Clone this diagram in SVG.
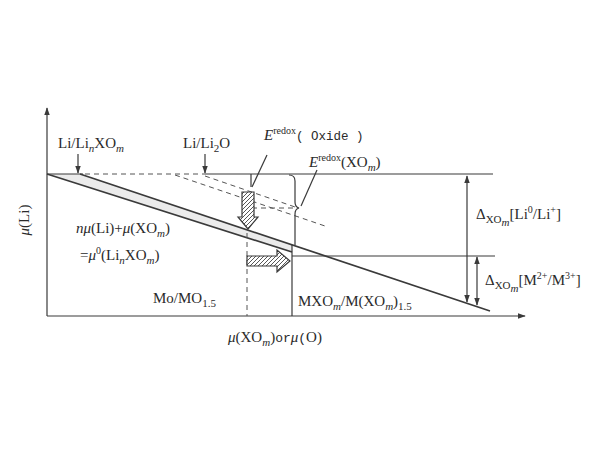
<svg xmlns="http://www.w3.org/2000/svg" width="600" height="450" viewBox="0 0 600 450">
<style>
.ln{stroke:#3a3a3a;stroke-width:1.2;fill:none}
.th{stroke:#3a3a3a;stroke-width:1.7;fill:none}
.ds{stroke:#555;stroke-width:1;fill:none;stroke-dasharray:5,4}
.t{font-family:"Liberation Serif","Times New Roman",serif;font-size:15px;fill:#2a2a2a}
.m{font-family:"Liberation Mono","Courier New",monospace;fill:#2a2a2a}
.hat{fill:url(#hatch);stroke:#3a3a3a;stroke-width:1.2}
</style>
<defs>
<pattern id="hatch" patternUnits="userSpaceOnUse" width="4" height="4">
<rect width="4" height="4" fill="#fff"/>
<path d="M-1,1 L1,-1 M0,4 L4,0 M3,5 L5,3" stroke="#444" stroke-width="0.9"/>
</pattern>
<marker id="ah" viewBox="0 0 10 10" refX="9" refY="5" markerWidth="8" markerHeight="8" orient="auto-start-reverse" markerUnits="userSpaceOnUse">
<path d="M0,1.5 L10,5 L0,8.5 Z" fill="#3a3a3a"/>
</marker>
</defs>
<rect width="600" height="450" fill="#fff"/>

<g id="axes">
<line class="ln" x1="47" y1="316" x2="47" y2="108" marker-end="url(#ah)"/>
<line class="ln" x1="47" y1="316" x2="525" y2="316" marker-end="url(#ah)"/>
</g>

<g id="connectors">
<polygon points="47,174 80,174 292,244.4 292,252" fill="#ebebeb" stroke="none"/>
<line class="th" x1="47" y1="174" x2="292" y2="252"/>
<line class="th" x1="80" y1="174" x2="490" y2="311"/>
<line class="ln" x1="47" y1="174" x2="83" y2="174"/>
<line class="ds" x1="85" y1="174" x2="205" y2="174"/>
<line class="ln" x1="205" y1="174" x2="493" y2="174"/>
<line class="ln" x1="292" y1="256" x2="495" y2="256"/>
<line class="ds" x1="175" y1="175" x2="325" y2="226"/>
<line class="ds" x1="205" y1="176" x2="298" y2="208"/>
<line class="ds" x1="252" y1="208" x2="298" y2="208"/>
<line class="ds" x1="247" y1="233" x2="247" y2="316"/>
<line class="ln" x1="292" y1="245" x2="292" y2="316"/>
<line class="ln" x1="251" y1="174" x2="251" y2="187"/>
<path class="ln" d="M289,175 Q295,175 295,181 L295,202 Q295,207 299,208 Q295,209 295,214 L295,245"/>
<line class="ln" x1="267" y1="155" x2="252" y2="187"/>
<line class="ln" x1="317" y1="170" x2="301" y2="206"/>
<line class="ln" x1="78" y1="154" x2="78" y2="173" marker-end="url(#ah)"/>
<line class="ln" x1="205" y1="154" x2="205" y2="173" marker-end="url(#ah)"/>
<line class="ln" x1="467" y1="176" x2="467" y2="302" marker-start="url(#ah)" marker-end="url(#ah)"/>
<line class="ln" x1="477" y1="257" x2="477" y2="305" marker-start="url(#ah)" marker-end="url(#ah)"/>
<polygon class="hat" points="242,192 254,192 254,217 258,217 248,229 238,217 242,217"/>
<polygon class="hat" points="247,256 277,256 277,250 290,261 277,272 277,266 247,266"/>
</g>

<g id="labels">
<text class="t" x="58" y="148">Li/Li<tspan dy="4" font-size="11" font-style="italic">n</tspan><tspan dy="-4">XO</tspan><tspan dy="4" font-size="11" font-style="italic">m</tspan></text>
<text class="t" x="183" y="148">Li/Li<tspan dy="4" font-size="11">2</tspan><tspan dy="-4">O</tspan></text>
<text class="t" x="264" y="140"><tspan font-style="italic">E</tspan><tspan dy="-6" font-size="10">redox</tspan><tspan dy="6" class="m" font-size="12.5">( Oxide )</tspan></text>
<text class="t" x="309" y="167"><tspan font-style="italic">E</tspan><tspan dy="-6" font-size="10">redox</tspan><tspan dy="6">(XO</tspan><tspan dy="4" font-size="11" font-style="italic">m</tspan><tspan dy="-4">)</tspan></text>
<text class="t" transform="translate(29,220) rotate(-90)" text-anchor="middle"><tspan font-style="italic">μ</tspan>(Li)</text>
<text class="t" x="76" y="233"><tspan font-style="italic">nμ</tspan>(Li)+<tspan font-style="italic">μ</tspan>(XO<tspan dy="4" font-size="11" font-style="italic">m</tspan><tspan dy="-4">)</tspan></text>
<text class="t" x="80" y="260">=<tspan font-style="italic">μ</tspan><tspan dy="-6" font-size="10">0</tspan><tspan dy="6">(Li</tspan><tspan dy="4" font-size="11" font-style="italic">n</tspan><tspan dy="-4">XO</tspan><tspan dy="4" font-size="11" font-style="italic">m</tspan><tspan dy="-4">)</tspan></text>
<text class="t" x="153" y="303">Mo/MO<tspan dy="4" font-size="11">1.5</tspan></text>
<text class="t" x="298" y="306">MXO<tspan dy="4" font-size="11" font-style="italic">m</tspan><tspan dy="-4">/M(XO</tspan><tspan dy="4" font-size="11" font-style="italic">m</tspan><tspan dy="-4">)</tspan><tspan dy="4" font-size="11">1.5</tspan></text>
<text class="t" x="476" y="219">Δ<tspan dy="4" font-size="11">XO</tspan><tspan dy="3" font-size="11" font-style="italic">m</tspan><tspan dy="-7">[Li</tspan><tspan dy="-6" font-size="10">0</tspan><tspan dy="6">/Li</tspan><tspan dy="-6" font-size="10">+</tspan><tspan dy="6">]</tspan></text>
<text class="t" x="485" y="285">Δ<tspan dy="4" font-size="11">XO</tspan><tspan dy="3" font-size="11" font-style="italic">m</tspan><tspan dy="-7">[M</tspan><tspan dy="-6" font-size="10">2+</tspan><tspan dy="6">/M</tspan><tspan dy="-6" font-size="10">3+</tspan><tspan dy="6">]</tspan></text>
<text class="t" x="228" y="342"><tspan font-style="italic">μ</tspan>(XO<tspan dy="4" font-size="11" font-style="italic">m</tspan><tspan dy="-4">)</tspan><tspan class="m" font-size="13">or</tspan><tspan font-style="italic">μ</tspan><tspan class="m" font-size="13">(</tspan>O)</text>
</g>
</svg>
